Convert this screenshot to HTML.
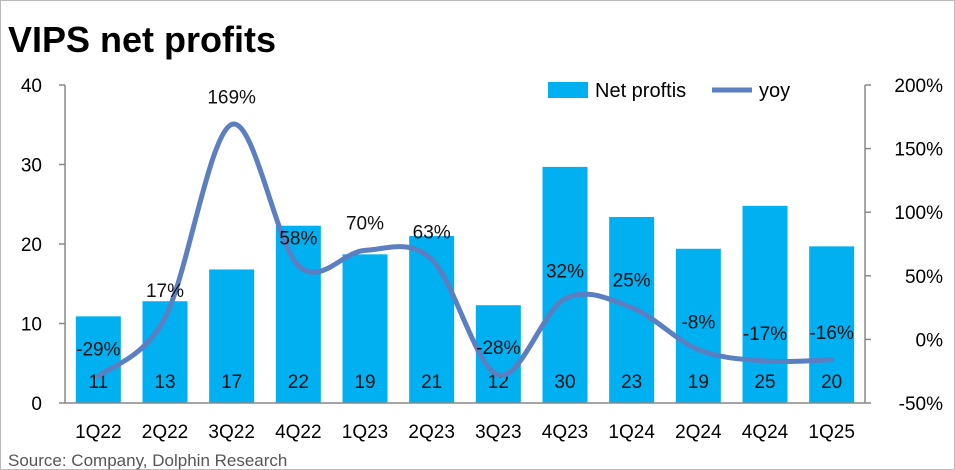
<!DOCTYPE html>
<html><head><meta charset="utf-8"><style>
body{margin:0;background:#fff;}
svg{display:block;font-family:"Liberation Sans",sans-serif;}
</style></head><body>
<svg id="chart" width="955" height="470">
<rect x="0.5" y="0.5" width="954" height="469" fill="#fff" stroke="#bbb"/>
<text x="8" y="52" font-size="36" font-weight="bold" fill="#000">VIPS net profits</text>
<g id="plot"></g>
<text x="8" y="466" font-size="17" fill="#555">Source: Company, Dolphin Research</text>
</svg>
<script>
const categories=["1Q22","2Q22","3Q22","4Q22","1Q23","2Q23","3Q23","4Q23","1Q24","2Q24","4Q24","1Q25"];
const profits=[10.9,12.8,16.8,22.3,18.7,21.0,12.3,29.7,23.4,19.4,24.8,19.7];
const profitLabels=["11","13","17","22","19","21","12","30","23","19","25","20"];
const yoy=[-29,17,169,58,70,63,-28,32,25,-8,-17,-16];
const leftTicks=[0,10,20,30,40];
const rightTicks=[-50,0,50,100,150,200];
const NS="http://www.w3.org/2000/svg";
const g=document.getElementById('plot');
const X0=65,X1=865,Y0=403,Y1=85;
const step=(X1-X0)/categories.length;
const xc=i=>X0+step*(i+0.5);
const yL=v=>Y0-(v-0)/(40-0)*(Y0-Y1);
const yR=v=>Y0-(v+50)/(250)*(Y0-Y1);
function el(t,a,txt){const e=document.createElementNS(NS,t);for(const k in a)e.setAttribute(k,a[k]);if(txt!=null)e.textContent=txt;g.appendChild(e);return e;}
let e=el('line',{x1:X0,y1:Y1,x2:X0,y2:Y0,stroke:'#888','stroke-width':1.5});

e=el('line',{x1:X1,y1:Y1,x2:X1,y2:Y0,stroke:'#888','stroke-width':1.5});

leftTicks.forEach(v=>{
 let t=el('line',{x1:X0-6,y1:yL(v),x2:X0,y2:yL(v),stroke:'#888','stroke-width':1.5});
 
 let l=el('text',{x:42,y:yL(v)+7,'font-size':19,'text-anchor':'end',fill:'#000'},String(v));
 
});
rightTicks.forEach(v=>{
 let t=el('line',{x1:X1,y1:yR(v),x2:X1+6,y2:yR(v),stroke:'#888','stroke-width':1.5});
 
 let l=el('text',{x:943,y:yR(v)+7,'font-size':19,'text-anchor':'end',fill:'#000'},v+'%');
 
});
profits.forEach((v,i)=>{
 let b=el('rect',{x:xc(i)-22.5,y:yL(v),width:45,height:Y0-yL(v),fill:'#00B0F0'});
 
 let l=el('text',{x:xc(i),y:388,'font-size':19,'text-anchor':'middle',fill:'#111'},profitLabels[i]);
 
 let c=el('text',{x:xc(i),y:438,'font-size':19,'text-anchor':'middle',fill:'#000'},categories[i]);
 
});
e=el('line',{x1:X0,y1:Y0,x2:X1,y2:Y0,stroke:'#888','stroke-width':1.5});

const pts=yoy.map((v,i)=>[xc(i),yR(v)]);
let d='M'+pts[0][0]+','+pts[0][1];
for(let i=0;i<pts.length-1;i++){
 const p0=pts[Math.max(0,i-1)],p1=pts[i],p2=pts[i+1],p3=pts[Math.min(pts.length-1,i+2)];
 const t=1/6;
 d+=` C${p1[0]+(p2[0]-p0[0])*t},${p1[1]+(p2[1]-p0[1])*t} ${p2[0]-(p3[0]-p1[0])*t},${p2[1]-(p3[1]-p1[1])*t} ${p2[0]},${p2[1]}`;
}
e=el('path',{d:d,fill:'none',stroke:'#5B7FC1','stroke-width':5,'stroke-linecap':'round'});

yoy.forEach((v,i)=>{
 let l=el('text',{x:xc(i),y:yR(v)-21,'font-size':19,'text-anchor':'middle',fill:'#111'},v+'%');
 
});
e=el('rect',{x:548,y:82,width:40,height:16,fill:'#00B0F0'});

e=el('text',{x:595,y:97,'font-size':20,fill:'#000'},'Net proftis');

e=el('line',{x1:712,y1:90,x2:752,y2:90,stroke:'#5B7FC1','stroke-width':5});

e=el('text',{x:759,y:97,'font-size':20,fill:'#000'},'yoy');

</script>
</body></html>
